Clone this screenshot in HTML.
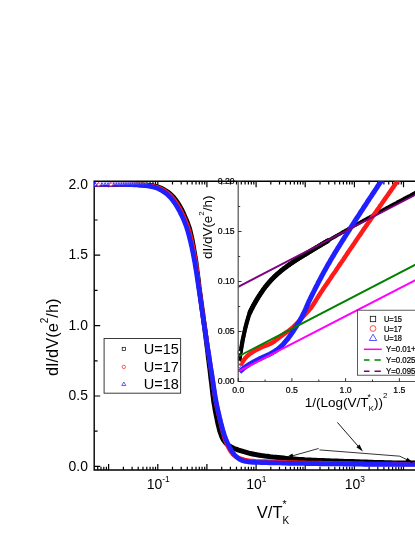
<!DOCTYPE html>
<html><head><meta charset="utf-8"><title>dI/dV</title>
<style>
html,body{margin:0;padding:0;background:#fff;}
body{width:415px;height:537px;overflow:hidden;}
svg{display:block;will-change:transform;font-family:"Liberation Sans",sans-serif;}
text{fill:#000;}
.sm{stroke:#000;stroke-width:0.22px;}
</style></head><body>
<svg width="415" height="537" viewBox="0 0 415 537">
<defs><clipPath id="insetclip"><rect x="237.7" y="181.3" width="200" height="200.2"/></clipPath></defs>
<rect width="415" height="537" fill="#fff"/>
<path d="M94.2,181.3 V470.0 H420 M94.2,181.3 H420" fill="none" stroke="#000" stroke-width="1.4" stroke-linecap="square"/>
<path d="M97.7,470.0 v-3.2 M97.7,181.3 v3.2 M101.0,470.0 v-3.2 M101.0,181.3 v3.2 M103.8,470.0 v-3.2 M103.8,181.3 v3.2 M106.4,470.0 v-3.2 M106.4,181.3 v3.2 M108.6,470.0 v-6 M108.6,181.3 v6 M123.4,470.0 v-3.2 M123.4,181.3 v3.2 M132.1,470.0 v-3.2 M132.1,181.3 v3.2 M138.2,470.0 v-3.2 M138.2,181.3 v3.2 M143.0,470.0 v-3.2 M143.0,181.3 v3.2 M146.8,470.0 v-3.2 M146.8,181.3 v3.2 M150.1,470.0 v-3.2 M150.1,181.3 v3.2 M153.0,470.0 v-3.2 M153.0,181.3 v3.2 M155.5,470.0 v-3.2 M155.5,181.3 v3.2 M157.8,470.0 v-6 M157.8,181.3 v6 M172.5,470.0 v-3.2 M172.5,181.3 v3.2 M181.2,470.0 v-3.2 M181.2,181.3 v3.2 M187.3,470.0 v-3.2 M187.3,181.3 v3.2 M192.1,470.0 v-3.2 M192.1,181.3 v3.2 M196.0,470.0 v-3.2 M196.0,181.3 v3.2 M199.3,470.0 v-3.2 M199.3,181.3 v3.2 M202.1,470.0 v-3.2 M202.1,181.3 v3.2 M204.7,470.0 v-3.2 M204.7,181.3 v3.2 M206.9,470.0 v-6 M206.9,181.3 v6 M221.7,470.0 v-3.2 M221.7,181.3 v3.2 M230.4,470.0 v-3.2 M230.4,181.3 v3.2 M236.5,470.0 v-3.2 M236.5,181.3 v3.2 M241.3,470.0 v-3.2 M241.3,181.3 v3.2 M245.1,470.0 v-3.2 M245.1,181.3 v3.2 M248.4,470.0 v-3.2 M248.4,181.3 v3.2 M251.3,470.0 v-3.2 M251.3,181.3 v3.2 M253.8,470.0 v-3.2 M253.8,181.3 v3.2 M256.1,470.0 v-6 M256.1,181.3 v6 M270.8,470.0 v-3.2 M270.8,181.3 v3.2 M279.5,470.0 v-3.2 M279.5,181.3 v3.2 M285.6,470.0 v-3.2 M285.6,181.3 v3.2 M290.4,470.0 v-3.2 M290.4,181.3 v3.2 M294.3,470.0 v-3.2 M294.3,181.3 v3.2 M297.6,470.0 v-3.2 M297.6,181.3 v3.2 M300.4,470.0 v-3.2 M300.4,181.3 v3.2 M303.0,470.0 v-3.2 M303.0,181.3 v3.2 M305.2,470.0 v-6 M305.2,181.3 v6 M320.0,470.0 v-3.2 M320.0,181.3 v3.2 M328.7,470.0 v-3.2 M328.7,181.3 v3.2 M334.8,470.0 v-3.2 M334.8,181.3 v3.2 M339.6,470.0 v-3.2 M339.6,181.3 v3.2 M343.4,470.0 v-3.2 M343.4,181.3 v3.2 M346.7,470.0 v-3.2 M346.7,181.3 v3.2 M349.6,470.0 v-3.2 M349.6,181.3 v3.2 M352.1,470.0 v-3.2 M352.1,181.3 v3.2 M354.4,470.0 v-6 M354.4,181.3 v6 M369.1,470.0 v-3.2 M369.1,181.3 v3.2 M377.8,470.0 v-3.2 M377.8,181.3 v3.2 M383.9,470.0 v-3.2 M383.9,181.3 v3.2 M388.7,470.0 v-3.2 M388.7,181.3 v3.2 M392.6,470.0 v-3.2 M392.6,181.3 v3.2 M395.9,470.0 v-3.2 M395.9,181.3 v3.2 M398.7,470.0 v-3.2 M398.7,181.3 v3.2 M401.3,470.0 v-3.2 M401.3,181.3 v3.2 M403.5,470.0 v-6 M403.5,181.3 v6 M94.2,466.4 h6 M94.2,431.2 h3.4 M94.2,396.0 h6 M94.2,360.8 h3.4 M94.2,325.6 h6 M94.2,290.4 h3.4 M94.2,255.2 h6 M94.2,220.0 h3.4 M94.2,184.8 h6" fill="none" stroke="#000" stroke-width="1.2"/>
<path d="M94.0,184.4 L96.7,184.4 L99.4,184.4 L102.0,184.4 L104.7,184.4 L107.4,184.4 L110.1,184.4 L112.8,184.4 L115.4,184.4 L118.1,184.4 L120.8,184.4 L123.5,184.4 L126.2,184.4 L128.9,184.5 L131.5,184.5 L134.2,184.5 L136.9,184.6 L139.6,184.7 L142.3,184.7 L144.9,184.9 L147.6,185.2 L150.3,185.5 L153.0,186.0 L155.6,186.5 L158.1,187.1 L160.7,188.1 L163.1,189.3 L165.4,190.6 L167.7,192.1 L169.8,193.7 L171.8,195.5 L173.6,197.4 L175.3,199.5 L176.9,201.7 L178.4,204.0 L179.7,206.3 L181.0,208.6 L182.3,211.0 L183.4,213.4 L184.5,215.9 L185.6,218.4 L186.6,220.8 L187.6,223.3 L188.5,225.9 L189.4,228.4 L190.1,231.0 L190.7,233.6 L191.3,236.2 L191.9,238.8 L192.4,241.4 L192.9,244.1 L193.4,246.7 L193.8,249.4 L194.3,252.0 L194.7,254.7 L195.1,257.3 L195.6,260.0 L196.0,262.6 L196.3,265.3 L196.7,267.9 L197.0,270.6 L197.4,273.2 L197.7,275.9 L198.1,278.6 L198.4,281.2 L198.7,283.9 L199.0,286.5 L199.4,289.2 L199.7,291.9 L200.1,294.5 L200.5,297.2 L200.8,299.8 L201.2,302.5 L201.6,305.1 L201.9,307.8 L202.3,310.5 L202.7,313.1 L203.0,315.8 L203.4,318.4 L203.7,321.1 L204.1,323.7 L204.5,326.4 L204.8,329.0 L205.2,331.7 L205.5,334.4 L205.9,337.0 L206.2,339.7 L206.5,342.3 L206.9,345.0 L207.2,347.7 L207.6,350.3 L207.9,353.0 L208.2,355.6 L208.5,358.3 L208.9,361.0 L209.2,363.6 L209.5,366.3 L209.9,368.9 L210.2,371.6 L210.5,374.3 L210.8,376.9 L211.1,379.6 L211.5,382.3 L211.8,384.9 L212.1,387.6 L212.4,390.2 L212.7,392.9 L213.0,395.6 L213.4,398.2 L213.7,400.9 L214.1,403.5 L214.6,406.2 L215.0,408.8 L215.5,411.5 L216.0,414.1 L216.5,416.7 L217.1,419.3 L217.6,422.0 L218.2,424.7 L218.9,427.3 L219.5,430.0 L220.3,432.5 L221.2,435.0 L222.1,437.4 L223.4,439.8 L225.0,442.0 L226.8,444.0 L228.8,445.6 L231.2,447.0 L233.6,448.2 L236.1,449.2 L238.6,450.1 L241.2,450.9 L243.8,451.7 L246.3,452.4 L248.9,453.1 L251.5,453.7 L254.2,454.3 L256.8,454.8 L259.4,455.2 L262.1,455.6 L264.7,456.0 L267.4,456.3 L270.1,456.7 L272.7,457.0 L275.4,457.2 L278.1,457.5 L280.7,457.8 L283.4,458.1 L286.1,458.4 L288.7,458.7 L291.4,458.9 L294.1,459.1 L296.7,459.3 L299.4,459.5 L302.1,459.6 L304.8,459.8 L307.4,459.9 L310.1,460.0 L312.8,460.2 L315.5,460.3 L318.2,460.4 L320.8,460.5 L323.5,460.6 L326.2,460.7 L328.9,460.8 L331.6,460.9 L334.2,461.0 L336.9,461.1 L339.6,461.2 L342.3,461.3 L345.0,461.4 L347.6,461.4 L350.3,461.5 L353.0,461.6 L355.7,461.7 L358.4,461.8 L361.0,461.9 L363.7,462.0 L366.4,462.1 L369.1,462.2 L371.8,462.3 L374.4,462.4 L377.1,462.5 L379.8,462.5 L382.5,462.6 L385.2,462.7 L387.8,462.7 L390.5,462.8 L393.2,462.9 L395.9,462.9 L398.6,463.0 L401.2,463.0 L403.9,463.0 L406.6,463.1 L409.3,463.1 L412.0,463.1 L414.6,463.1 L417.3,463.1 L420.0,463.1" fill="none" stroke="#000" stroke-width="5" stroke-linejoin="round"/>
<path d="M94.0,184.4 L96.7,184.4 L99.4,184.4 L102.1,184.4 L104.8,184.4 L107.5,184.4 L110.2,184.4 L112.9,184.5 L115.6,184.5 L118.3,184.5 L121.0,184.5 L123.7,184.5 L126.4,184.6 L129.1,184.6 L131.8,184.6 L134.4,184.7 L137.1,184.8 L139.8,184.9 L142.5,185.0 L145.2,185.2 L147.9,185.5 L150.6,185.9 L153.3,186.3 L155.9,186.9 L158.4,187.7 L160.9,188.8 L163.3,190.1 L165.5,191.6 L167.8,193.2 L169.8,194.9 L171.7,196.8 L173.4,198.9 L175.0,201.1 L176.6,203.3 L178.0,205.6 L179.3,207.9 L180.6,210.3 L181.8,212.7 L183.0,215.2 L184.1,217.6 L185.1,220.1 L186.2,222.6 L187.2,225.1 L188.1,227.7 L188.9,230.2 L189.6,232.8 L190.3,235.4 L190.9,238.0 L191.5,240.6 L192.1,243.3 L192.7,245.9 L193.2,248.6 L193.7,251.2 L194.2,253.9 L194.7,256.6 L195.2,259.2 L195.6,261.9 L196.0,264.5 L196.4,267.2 L196.8,269.9 L197.1,272.5 L197.5,275.2 L197.8,277.9 L198.1,280.6 L198.5,283.2 L198.8,285.9 L199.2,288.6 L199.6,291.2 L199.9,293.9 L200.3,296.6 L200.7,299.3 L201.1,301.9 L201.4,304.6 L201.8,307.3 L202.2,309.9 L202.6,312.6 L203.0,315.3 L203.3,317.9 L203.7,320.6 L204.1,323.3 L204.5,325.9 L204.9,328.6 L205.3,331.3 L205.6,334.0 L206.0,336.6 L206.4,339.3 L206.8,342.0 L207.2,344.6 L207.6,347.3 L208.0,349.9 L208.4,352.6 L208.9,355.3 L209.3,357.9 L209.7,360.6 L210.1,363.3 L210.5,365.9 L210.9,368.6 L211.3,371.3 L211.7,373.9 L212.1,376.6 L212.5,379.3 L212.9,381.9 L213.2,384.6 L213.6,387.3 L214.0,390.0 L214.3,392.6 L214.7,395.3 L215.2,397.9 L215.6,400.6 L216.2,403.2 L216.7,405.9 L217.3,408.5 L217.9,411.1 L218.5,413.8 L219.2,416.4 L219.8,419.0 L220.4,421.6 L221.0,424.3 L221.6,426.9 L222.3,429.5 L223.0,432.1 L223.7,434.7 L224.4,437.3 L225.3,439.9 L226.2,442.4 L227.2,444.9 L228.4,447.3 L229.7,449.8 L231.2,452.1 L232.9,454.2 L234.8,455.8 L237.1,457.2 L239.7,458.3 L242.3,459.3 L244.9,459.9 L247.5,460.4 L250.2,460.9 L252.9,461.1 L255.6,461.3 L258.3,461.4 L261.0,461.5 L263.7,461.6 L266.4,461.6 L269.1,461.7 L271.8,461.8 L274.5,461.9 L277.2,462.0 L279.8,462.1 L282.5,462.2 L285.2,462.3 L287.9,462.4 L290.6,462.5 L293.3,462.6 L296.0,462.6 L298.7,462.7 L301.4,462.7 L304.1,462.8 L306.8,462.9 L309.5,462.9 L312.2,463.0 L314.9,463.0 L317.6,463.1 L320.3,463.1 L323.0,463.2 L325.7,463.2 L328.3,463.3 L331.0,463.3 L333.7,463.4 L336.4,463.4 L339.1,463.5 L341.8,463.5 L344.5,463.6 L347.2,463.6 L349.9,463.6 L352.6,463.7 L355.3,463.7 L358.0,463.8 L360.7,463.8 L363.4,463.8 L366.1,463.9 L368.8,463.9 L371.5,463.9 L374.2,464.0 L376.9,464.0 L379.6,464.0 L382.3,464.0 L385.0,464.1 L387.7,464.1 L390.3,464.1 L393.0,464.1 L395.7,464.1 L398.4,464.2 L401.1,464.2 L403.8,464.2 L406.5,464.2 L409.2,464.2 L411.9,464.2 L414.6,464.2 L417.3,464.2 L420.0,464.2" fill="none" stroke="#ff1a1a" stroke-width="4.5" stroke-linejoin="round"/>
<path d="M94.0,184.4 L96.7,184.4 L99.4,184.4 L102.1,184.4 L104.8,184.4 L107.4,184.4 L110.1,184.4 L112.8,184.5 L115.5,184.5 L118.2,184.5 L120.9,184.5 L123.6,184.5 L126.3,184.6 L129.0,184.7 L131.6,184.7 L134.3,184.8 L137.0,185.0 L139.7,185.1 L142.4,185.3 L145.1,185.6 L147.8,185.9 L150.4,186.4 L153.0,187.0 L155.6,187.6 L158.1,188.6 L160.5,189.8 L162.8,191.2 L165.1,192.7 L167.2,194.4 L169.1,196.2 L171.0,198.2 L172.7,200.3 L174.3,202.5 L175.8,204.7 L177.2,207.0 L178.5,209.3 L179.8,211.7 L181.0,214.1 L182.2,216.6 L183.3,219.0 L184.3,221.5 L185.3,224.0 L186.3,226.5 L187.1,229.1 L187.9,231.6 L188.6,234.2 L189.3,236.8 L189.9,239.4 L190.6,242.0 L191.2,244.6 L191.8,247.3 L192.3,249.9 L192.9,252.6 L193.4,255.2 L193.9,257.8 L194.4,260.5 L194.9,263.1 L195.3,265.8 L195.7,268.4 L196.2,271.1 L196.6,273.7 L197.0,276.4 L197.4,279.0 L197.8,281.7 L198.2,284.4 L198.6,287.0 L199.0,289.7 L199.4,292.3 L199.8,295.0 L200.2,297.7 L200.6,300.3 L201.0,303.0 L201.3,305.6 L201.7,308.3 L202.1,311.0 L202.5,313.6 L202.9,316.3 L203.3,318.9 L203.7,321.6 L204.1,324.3 L204.5,326.9 L204.9,329.6 L205.3,332.2 L205.7,334.9 L206.1,337.5 L206.5,340.2 L206.9,342.9 L207.3,345.5 L207.7,348.2 L208.1,350.8 L208.6,353.5 L209.0,356.1 L209.4,358.8 L209.8,361.5 L210.2,364.1 L210.6,366.8 L211.0,369.4 L211.5,372.1 L211.9,374.7 L212.3,377.4 L212.7,380.1 L213.1,382.7 L213.5,385.4 L213.9,388.0 L214.3,390.7 L214.7,393.3 L215.1,396.0 L215.6,398.6 L216.1,401.3 L216.6,403.9 L217.1,406.6 L217.7,409.2 L218.3,411.8 L218.9,414.4 L219.5,417.1 L220.2,419.7 L220.8,422.3 L221.5,424.9 L222.2,427.5 L222.9,430.1 L223.7,432.7 L224.5,435.2 L225.4,437.7 L226.3,440.2 L227.4,442.7 L228.6,445.2 L229.8,447.5 L231.1,449.9 L232.6,452.3 L234.2,454.5 L235.9,456.4 L237.9,458.1 L240.3,459.7 L242.7,460.8 L245.3,461.4 L247.9,461.8 L250.6,462.1 L253.3,462.3 L256.0,462.4 L258.7,462.5 L261.4,462.6 L264.1,462.7 L266.8,462.7 L269.5,462.8 L272.2,462.8 L274.8,462.9 L277.5,463.0 L280.2,463.0 L282.9,463.1 L285.6,463.2 L288.3,463.3 L291.0,463.3 L293.7,463.4 L296.3,463.4 L299.0,463.5 L301.7,463.5 L304.4,463.5 L307.1,463.6 L309.8,463.6 L312.5,463.7 L315.2,463.7 L317.8,463.7 L320.5,463.8 L323.2,463.8 L325.9,463.8 L328.6,463.9 L331.3,463.9 L334.0,463.9 L336.7,464.0 L339.4,464.0 L342.0,464.0 L344.7,464.1 L347.4,464.1 L350.1,464.1 L352.8,464.2 L355.5,464.2 L358.2,464.2 L360.9,464.2 L363.5,464.3 L366.2,464.3 L368.9,464.3 L371.6,464.3 L374.3,464.3 L377.0,464.4 L379.7,464.4 L382.4,464.4 L385.1,464.4 L387.7,464.4 L390.4,464.4 L393.1,464.5 L395.8,464.5 L398.5,464.5 L401.2,464.5 L403.9,464.5 L406.6,464.5 L409.2,464.5 L411.9,464.5 L414.6,464.5 L417.3,464.5 L420.0,464.5" fill="none" stroke="#1f1fff" stroke-width="4.7" stroke-linejoin="round"/>
<path d="M95.4,183.4 l0.93,1.77 h-1.86 z" fill="#fff" opacity="0.98"/>
<path d="M95.4,181.9 h3.35 l-1.67,3.0 z" fill="#fff" opacity="0.98"/>
<circle cx="98.7" cy="184.5" r="1.60" fill="#fff" stroke="#ff1a1a" stroke-width="0.9"/>
<path d="M98.7,181.9 h3.22 l-1.61,3.0 z" fill="#fff" opacity="0.93"/>
<path d="M102.0,183.5 l0.85,1.61 h-1.69 z" fill="#fff" opacity="0.88"/>
<circle cx="102.4" cy="185.6" r="0.55" fill="#ff3030" opacity="0.88"/>
<path d="M102.0,181.9 h3.10 l-1.55,3.0 z" fill="#fff" opacity="0.88"/>
<path d="M105.1,183.5 l0.81,1.53 h-1.61 z" fill="#fff" opacity="0.83"/>
<path d="M105.1,181.9 h2.98 l-1.49,3.0 z" fill="#fff" opacity="0.83"/>
<path d="M108.0,183.5 l0.77,1.46 h-1.53 z" fill="#fff" opacity="0.79"/>
<path d="M108.0,181.9 h2.87 l-1.43,3.0 z" fill="#fff" opacity="0.79"/>
<circle cx="110.9" cy="184.5" r="1.60" fill="#fff" stroke="#ff1a1a" stroke-width="0.9"/>
<path d="M110.9,181.9 h2.76 l-1.38,3.0 z" fill="#fff" opacity="0.75"/>
<path d="M113.7,183.6 l0.69,1.32 h-1.39 z" fill="#fff" opacity="0.70"/>
<path d="M113.7,181.9 h2.65 l-1.33,3.0 z" fill="#fff" opacity="0.70"/>
<path d="M116.3,183.6 l0.66,1.25 h-1.32 z" fill="#fff" opacity="0.67"/>
<path d="M116.3,181.9 h2.55 l-1.28,3.0 z" fill="#fff" opacity="0.67"/>
<path d="M118.9,183.7 l0.63,1.19 h-1.25 z" fill="#fff" opacity="0.63"/>
<circle cx="119.3" cy="185.6" r="0.55" fill="#ff3030" opacity="0.63"/>
<path d="M118.9,181.9 h2.45 l-1.23,3.0 z" fill="#fff" opacity="0.63"/>
<path d="M121.3,183.7 l0.59,1.13 h-1.19 z" fill="#fff" opacity="0.59"/>
<path d="M121.3,181.9 h2.36 l-1.18,3.0 z" fill="#fff" opacity="0.59"/>
<path d="M123.7,183.7 l0.56,1.07 h-1.13 z" fill="#fff" opacity="0.55"/>
<path d="M123.7,181.9 h2.27 l-1.14,3.0 z" fill="#fff" opacity="0.55"/>
<path d="M126.0,183.8 l0.53,1.02 h-1.07 z" fill="#fff" opacity="0.52"/>
<circle cx="126.4" cy="185.6" r="0.55" fill="#ff3030" opacity="0.52"/>
<path d="M126.0,181.9 h2.19 l-1.09,3.0 z" fill="#fff" opacity="0.52"/>
<path d="M128.1,183.8 l0.51,0.96 h-1.01 z" fill="#fff" opacity="0.49"/>
<path d="M128.1,181.9 h2.10 l-1.05,3.0 z" fill="#fff" opacity="0.49"/>
<path d="M130.2,183.8 l0.48,0.91 h-0.96 z" fill="#fff" opacity="0.46"/>
<path d="M130.2,181.9 h2.02 l-1.01,3.0 z" fill="#fff" opacity="0.46"/>
<path d="M132.3,183.8 l0.45,0.86 h-0.90 z" fill="#fff" opacity="0.43"/>
<circle cx="132.7" cy="185.6" r="0.55" fill="#ff3030" opacity="0.43"/>
<path d="M132.3,181.9 h1.95 l-0.97,3.0 z" fill="#fff" opacity="0.43"/>
<path d="M134.2,183.9 l0.43,0.81 h-0.85 z" fill="#fff" opacity="0.40"/>
<path d="M134.2,181.9 h1.87 l-0.94,3.0 z" fill="#fff" opacity="0.40"/>
<path d="M136.1,183.9 l0.40,0.77 h-0.81 z" fill="#fff" opacity="0.37"/>
<path d="M136.1,181.9 h1.80 l-0.90,3.0 z" fill="#fff" opacity="0.37"/>
<path d="M137.9,183.9 l0.38,0.72 h-0.76 z" fill="#fff" opacity="0.34"/>
<circle cx="138.3" cy="185.6" r="0.55" fill="#ff3030" opacity="0.34"/>
<path d="M137.9,181.9 h1.73 l-0.87,3.0 z" fill="#fff" opacity="0.34"/>
<path d="M139.6,183.9 l0.36,0.68 h-0.71 z" fill="#fff" opacity="0.32"/>
<path d="M139.6,181.9 h1.67 l-0.83,3.0 z" fill="#fff" opacity="0.32"/>
<path d="M141.3,184.0 l0.34,0.64 h-0.67 z" fill="#fff" opacity="0.29"/>
<path d="M141.3,181.9 h1.60 l-0.80,3.0 z" fill="#fff" opacity="0.29"/>
<path d="M142.9,184.0 l0.31,0.60 h-0.63 z" fill="#fff" opacity="0.27"/>
<circle cx="143.3" cy="185.6" r="0.55" fill="#ff3030" opacity="0.27"/>
<path d="M142.9,181.9 h1.54 l-0.77,3.0 z" fill="#fff" opacity="0.27"/>
<path d="M144.4,184.0 l0.30,0.57 h-0.60 z" fill="#fff" opacity="0.25"/>
<path d="M144.4,181.9 h1.50 l-0.75,3.0 z" fill="#fff" opacity="0.25"/>
<path d="M145.9,184.0 l0.30,0.57 h-0.60 z" fill="#fff" opacity="0.25"/>
<path d="M145.9,181.9 h1.50 l-0.75,3.0 z" fill="#fff" opacity="0.25"/>
<g clip-path="url(#insetclip)">
<path d="M239.6,359.5 L239.7,358.6 L239.8,357.8 L239.9,356.9 L240.0,356.0 L240.2,355.2 L240.3,354.3 L240.4,353.4 L240.6,352.6 L240.7,351.7 L240.8,350.8 L241.0,350.0 L241.1,349.1 L241.3,348.3 L241.4,347.4 L241.6,346.5 L241.7,345.7 L241.8,344.8 L242.0,343.9 L242.1,343.1 L242.3,342.2 L242.5,341.4 L242.6,340.5 L242.8,339.6 L243.0,338.8 L243.1,337.9 L243.3,337.1 L243.5,336.2 L243.7,335.4 L243.9,334.5 L244.0,333.7 L244.2,332.8 L244.4,332.0 L244.6,331.1 L244.8,330.3 L245.0,329.4 L245.2,328.5 L245.4,327.7 L245.6,326.8 L245.9,326.0 L246.1,325.2 L246.3,324.3 L246.5,323.5 L246.7,322.6 L247.0,321.8 L247.2,320.9 L247.4,320.1 L247.7,319.3 L247.9,318.4 L248.2,317.6 L248.4,316.7 L248.7,315.9 L249.0,315.1 L249.3,314.2 L249.6,313.4 L249.9,312.6 L250.2,311.8 L250.5,311.0 L250.9,310.2 L251.3,309.4 L251.6,308.6 L252.0,307.9 L252.5,307.1 L252.9,306.3 L253.3,305.5 L253.7,304.8 L254.2,304.0 L254.6,303.3 L255.1,302.5 L255.5,301.7 L256.0,301.0 L256.4,300.2 L256.9,299.5 L257.3,298.8 L257.8,298.0 L258.2,297.3 L258.7,296.5 L259.2,295.8 L259.6,295.0 L260.1,294.3 L260.6,293.6 L261.1,292.8 L261.6,292.1 L262.1,291.4 L262.6,290.7 L263.1,290.0 L263.6,289.3 L264.1,288.5 L264.6,287.9 L265.1,287.2 L265.7,286.5 L266.2,285.8 L266.8,285.1 L267.3,284.4 L267.9,283.8 L268.5,283.1 L269.0,282.4 L269.6,281.8 L270.2,281.1 L270.8,280.5 L271.4,279.8 L272.0,279.2 L272.6,278.6 L273.2,278.0 L273.8,277.3 L274.5,276.7 L275.1,276.1 L275.7,275.5 L276.4,274.9 L277.0,274.3 L277.7,273.8 L278.3,273.2 L279.0,272.6 L279.6,272.0 L280.3,271.5 L281.0,270.9 L281.7,270.4 L282.3,269.8 L283.0,269.3 L283.7,268.7 L284.4,268.2 L285.1,267.7 L285.8,267.1 L286.5,266.6 L287.2,266.1 L287.9,265.6 L288.6,265.1 L289.3,264.6 L290.1,264.1 L290.8,263.6 L291.5,263.1 L292.2,262.6 L293.0,262.1 L293.7,261.6 L294.4,261.1 L295.1,260.7 L295.9,260.2 L296.6,259.7 L297.4,259.2 L298.1,258.8 L298.8,258.3 L299.6,257.8 L300.3,257.4 L301.1,256.9 L301.8,256.5 L302.5,256.0 L303.3,255.5 L304.0,255.1 L304.8,254.6 L305.5,254.2 L306.3,253.7 L307.0,253.3 L307.8,252.8 L308.5,252.4 L309.3,251.9 L310.0,251.5 L310.8,251.0 L311.5,250.6 L312.3,250.1 L313.0,249.6 L313.8,249.2 L314.5,248.7 L315.3,248.3 L316.0,247.8 L316.8,247.4 L317.5,246.9 L318.2,246.5 L319.0,246.0 L319.7,245.6 L320.5,245.1 L321.2,244.7 L322.0,244.2 L322.8,243.8 L323.5,243.3 L324.3,242.9 L325.0,242.5 L325.8,242.0 L326.5,241.6 L327.3,241.1 L328.0,240.7 L328.8,240.2 L329.5,239.8 L330.3,239.4 L331.0,238.9 L331.8,238.5 L332.5,238.0 L333.3,237.6 L334.1,237.2 L334.8,236.7 L335.6,236.3 L336.3,235.8 L337.1,235.4 L337.8,235.0 L338.6,234.5 L339.4,234.1 L340.1,233.7 L340.9,233.2 L341.6,232.8 L342.4,232.4 L343.2,231.9 L343.9,231.5 L344.7,231.1 L345.4,230.6 L346.2,230.2 L347.0,229.8 L347.7,229.4 L348.5,228.9 L349.3,228.5 L350.0,228.1 L350.8,227.6 L351.5,227.2 L352.3,226.8 L353.1,226.4 L353.8,225.9 L354.6,225.5 L355.4,225.1 L356.1,224.7 L356.9,224.2 L357.7,223.8 L358.4,223.4 L359.2,223.0 L360.0,222.6 L360.7,222.1 L361.5,221.7 L362.2,221.3 L363.0,220.9 L363.8,220.4 L364.5,220.0 L365.3,219.6 L366.1,219.2 L366.8,218.8 L367.6,218.3 L368.4,217.9 L369.2,217.5 L369.9,217.1 L370.7,216.7 L371.5,216.3 L372.2,215.8 L373.0,215.4 L373.8,215.0 L374.5,214.6 L375.3,214.2 L376.1,213.7 L376.8,213.3 L377.6,212.9 L378.4,212.5 L379.1,212.1 L379.9,211.7 L380.7,211.2 L381.4,210.8 L382.2,210.4 L383.0,210.0 L383.7,209.6 L384.5,209.2 L385.3,208.8 L386.1,208.3 L386.8,207.9 L387.6,207.5 L388.4,207.1 L389.1,206.7 L389.9,206.3 L390.7,205.9 L391.4,205.4 L392.2,205.0 L393.0,204.6 L393.8,204.2 L394.5,203.8 L395.3,203.4 L396.1,203.0 L396.8,202.6 L397.6,202.1 L398.4,201.7 L399.2,201.3 L399.9,200.9 L400.7,200.5 L401.5,200.1 L402.2,199.7 L403.0,199.3 L403.8,198.9 L404.6,198.4 L405.3,198.0 L406.1,197.6 L406.9,197.2 L407.6,196.8 L408.4,196.4 L409.2,196.0 L410.0,195.6 L410.7,195.2 L411.5,194.7 L412.3,194.3 L413.0,193.9 L413.8,193.5 L414.6,193.1 L415.4,192.7 L416.1,192.3 L416.9,191.9 L417.7,191.5 L418.5,191.1 L419.2,190.6 L420.0,190.2" fill="none" stroke="#000" stroke-width="3.6" stroke-linejoin="round"/>
<path d="M239.6,359.5 L239.7,359.0 L239.7,358.5 L239.8,357.9 L239.9,357.4 L239.9,356.9 L240.0,356.4 L240.1,355.9 L240.1,355.4 L240.2,354.8 L240.3,354.3 L240.4,353.8 L240.4,353.3 L240.5,352.8 L240.6,352.3 L240.7,351.7 L240.8,351.2 L240.9,350.7 L240.9,350.2 L241.0,349.7 L241.1,349.2 L241.2,348.6 L241.3,348.1 L241.4,347.6 L241.5,347.1 L241.5,346.6 L241.6,346.1 L241.7,345.6 L241.8,345.0 L241.9,344.5 L242.0,344.0 L242.1,343.5 L242.2,343.0 L242.3,342.5 L242.4,341.9 L242.4,341.4 L242.5,340.9 L242.6,340.4 L242.7,339.9 L242.8,339.4 L242.9,338.9 L243.0,338.4 L243.1,337.8 L243.3,337.3 L243.4,336.8 L243.5,336.3 L243.6,335.8 L243.7,335.3 L243.8,334.8 L243.9,334.3 L244.0,333.8 L244.1,333.2 L244.3,332.7 L244.4,332.2 L244.5,331.7 L244.6,331.2 L244.7,330.7 L244.8,330.2 L245.0,329.7 L245.1,329.2 L245.2,328.7 L245.3,328.2 L245.4,327.7 L245.6,327.1 L245.7,326.6 L245.8,326.1 L245.9,325.6 L246.1,325.1 L246.2,324.6 L246.3,324.1 L246.5,323.6 L246.6,323.1 L246.7,322.6 L246.9,322.1 L247.0,321.6 L247.2,321.1 L247.3,320.6 L247.5,320.1 L247.6,319.6 L247.7,319.1 L247.9,318.6 L248.0,318.1 L248.2,317.6 L248.3,317.1 L248.5,316.6 L248.7,316.1 L248.8,315.6 L249.0,315.1 L249.2,314.6 L249.3,314.1 L249.5,313.6 L249.7,313.1 L249.9,312.6 L250.1,312.1 L250.3,311.7 L250.5,311.2 L250.7,310.7 L250.9,310.2 L251.1,309.8 L251.3,309.3 L251.6,308.8 L251.8,308.4 L252.0,307.9 L252.3,307.4 L252.5,307.0 L252.8,306.5 L253.0,306.0 L253.3,305.6 L253.5,305.1 L253.8,304.7 L254.1,304.2 L254.3,303.8 L254.6,303.3 L254.9,302.9 L255.1,302.4 L255.4,301.9 L255.7,301.5 L255.9,301.0 L256.2,300.6 L256.5,300.2 L256.8,299.7 L257.0,299.3 L257.3,298.8 L257.6,298.4 L257.8,297.9 L258.1,297.5 L258.4,297.0 L258.7,296.6 L258.9,296.1 L259.2,295.7 L259.5,295.3 L259.8,294.8 L260.1,294.4 L260.3,293.9 L260.6,293.5 L260.9,293.1 L261.2,292.6 L261.5,292.2 L261.8,291.8 L262.1,291.3 L262.4,290.9 L262.7,290.5 L263.0,290.0 L263.3,289.6 L263.6,289.2 L263.9,288.8 L264.2,288.4 L264.5,287.9 L264.9,287.5 L265.2,287.1 L265.5,286.7 L265.8,286.3 L266.1,285.9 L266.5,285.5 L266.8,285.1 L267.1,284.7 L267.5,284.3 L267.8,283.9 L268.1,283.5 L268.5,283.1 L268.8,282.7 L269.2,282.3 L269.5,281.9 L269.9,281.5 L270.2,281.1 L270.6,280.7 L270.9,280.3 L271.3,280.0 L271.6,279.6 L272.0,279.2 L272.4,278.8 L272.7,278.4 L273.1,278.1 L273.5,277.7 L273.8,277.3 L274.2,277.0 L274.6,276.6 L275.0,276.2 L275.3,275.9 L275.7,275.5 L276.1,275.2 L276.5,274.8 L276.9,274.5 L277.3,274.1 L277.7,273.8 L278.0,273.4 L278.4,273.1 L278.8,272.7 L279.2,272.4 L279.6,272.1 L280.0,271.7 L280.4,271.4 L280.8,271.0 L281.2,270.7 L281.6,270.4 L282.0,270.1 L282.4,269.7 L282.9,269.4 L283.3,269.1 L283.7,268.8 L284.1,268.4 L284.5,268.1 L284.9,267.8 L285.3,267.5 L285.8,267.2 L286.2,266.9 L286.6,266.5 L287.0,266.2 L287.4,265.9 L287.9,265.6 L288.3,265.3 L288.7,265.0 L289.1,264.7 L289.6,264.4 L290.0,264.1 L290.4,263.8 L290.9,263.5 L291.3,263.2 L291.7,262.9 L292.2,262.6 L292.6,262.3 L293.0,262.1 L293.5,261.8 L293.9,261.5 L294.3,261.2 L294.8,260.9 L295.2,260.6 L295.6,260.3 L296.1,260.0 L296.5,259.8 L297.0,259.5 L297.4,259.2 L297.8,258.9 L298.3,258.6 L298.7,258.4 L299.2,258.1 L299.6,257.8 L300.1,257.5 L300.5,257.3 L300.9,257.0 L301.4,256.7 L301.8,256.4 L302.3,256.2 L302.7,255.9 L303.2,255.6 L303.6,255.3 L304.1,255.1 L304.5,254.8 L305.0,254.5 L305.4,254.3 L305.8,254.0 L306.3,253.7 L306.7,253.4 L307.2,253.2 L307.6,252.9 L308.1,252.6 L308.5,252.4 L309.0,252.1 L309.4,251.8 L309.9,251.5 L310.3,251.3 L310.8,251.0 L311.2,250.7 L311.7,250.5 L312.1,250.2 L312.6,249.9 L313.0,249.7 L313.5,249.4 L313.9,249.1 L314.3,248.8 L314.8,248.6 L315.2,248.3 L315.7,248.0 L316.1,247.8 L316.6,247.5 L317.0,247.2 L317.5,247.0 L317.9,246.7 L318.4,246.4 L318.8,246.2 L319.3,245.9 L319.7,245.6 L320.2,245.4 L320.6,245.1 L321.1,244.8 L321.5,244.5 L322.0,244.3 L322.4,244.0 L322.9,243.7 L323.3,243.5 L323.8,243.2 L324.2,242.9 L324.7,242.7 L325.1,242.4 L325.6,242.1 L326.0,241.9 L326.5,241.6 L326.9,241.3 L327.4,241.1 L327.8,240.8" fill="none" stroke="#000" stroke-width="4.2" stroke-linejoin="round" stroke-linecap="round"/>
<path d="M250.0,312.3 L250.2,312.0 L250.3,311.6 L250.5,311.3 L250.6,311.0 L250.8,310.7 L251.0,310.3 L251.1,310.0 L251.3,309.7 L251.4,309.4 L251.6,309.0 L251.8,308.7 L251.9,308.4 L252.1,308.1 L252.3,307.8 L252.4,307.4 L252.6,307.1 L252.8,306.8 L252.9,306.5 L253.1,306.2 L253.3,305.8 L253.4,305.5 L253.6,305.2 L253.8,304.9 L254.0,304.6 L254.1,304.3 L254.3,303.9 L254.5,303.6 L254.7,303.3 L254.8,303.0 L255.0,302.7 L255.2,302.4 L255.4,302.1 L255.6,301.7 L255.7,301.4 L255.9,301.1 L256.1,300.8 L256.3,300.5 L256.5,300.2 L256.6,299.9 L256.8,299.6 L257.0,299.3 L257.2,299.0 L257.4,298.7 L257.6,298.3 L257.8,298.0 L257.9,297.7 L258.1,297.4 L258.3,297.1 L258.5,296.8 L258.7,296.5 L258.9,296.2 L259.1,295.9 L259.3,295.6 L259.5,295.3 L259.7,295.0 L259.9,294.7 L260.1,294.4 L260.3,294.1 L260.5,293.8 L260.7,293.5 L260.9,293.2 L261.1,292.9 L261.3,292.6 L261.5,292.3 L261.7,292.0 L261.9,291.7 L262.1,291.4 L262.3,291.1 L262.5,290.8 L262.7,290.5 L262.9,290.2 L263.1,289.9 L263.3,289.6 L263.5,289.3 L263.8,289.0 L264.0,288.7 L264.2,288.4 L264.4,288.2 L264.6,287.9 L264.8,287.6 L265.0,287.3 L265.3,287.0 L265.5,286.7 L265.7,286.4 L265.9,286.2 L266.2,285.9 L266.4,285.6 L266.6,285.3 L266.8,285.0 L267.1,284.8 L267.3,284.5 L267.5,284.2 L267.8,283.9 L268.0,283.6 L268.2,283.4 L268.5,283.1 L268.7,282.8 L268.9,282.5 L269.2,282.3 L269.4,282.0 L269.7,281.7 L269.9,281.5 L270.1,281.2 L270.4,280.9 L270.6,280.7 L270.9,280.4 L271.1,280.1 L271.4,279.9 L271.6,279.6 L271.9,279.4 L272.1,279.1 L272.4,278.8 L272.6,278.6 L272.9,278.3 L273.1,278.1 L273.4,277.8 L273.6,277.6 L273.9,277.3 L274.1,277.0 L274.4,276.8 L274.7,276.5 L274.9,276.3 L275.2,276.0 L275.4,275.8 L275.7,275.6 L276.0,275.3 L276.2,275.1 L276.5,274.8 L276.8,274.6 L277.0,274.3 L277.3,274.1 L277.6,273.8 L277.8,273.6 L278.1,273.4 L278.4,273.1 L278.6,272.9 L278.9,272.7 L279.2,272.4 L279.5,272.2 L279.7,272.0 L280.0,271.7 L280.3,271.5 L280.6,271.3 L280.8,271.0 L281.1,270.8 L281.4,270.6 L281.7,270.3 L282.0,270.1 L282.2,269.9 L282.5,269.7 L282.8,269.4 L283.1,269.2 L283.4,269.0 L283.7,268.8 L283.9,268.5 L284.2,268.3 L284.5,268.1 L284.8,267.9 L285.1,267.7 L285.4,267.5 L285.7,267.2 L286.0,267.0 L286.2,266.8 L286.5,266.6 L286.8,266.4 L287.1,266.2 L287.4,266.0 L287.7,265.7 L288.0,265.5 L288.3,265.3 L288.6,265.1 L288.9,264.9 L289.2,264.7 L289.5,264.5 L289.8,264.3 L290.1,264.1 L290.4,263.9 L290.6,263.7 L290.9,263.5 L291.2,263.3 L291.5,263.1 L291.8,262.9 L292.1,262.7 L292.4,262.4 L292.7,262.2 L293.0,262.0 L293.3,261.8 L293.6,261.6 L293.9,261.4 L294.2,261.2 L294.5,261.1 L294.8,260.9 L295.1,260.7 L295.4,260.5 L295.7,260.3 L296.1,260.1 L296.4,259.9 L296.7,259.7 L297.0,259.5 L297.3,259.3 L297.6,259.1 L297.9,258.9 L298.2,258.7 L298.5,258.5 L298.8,258.3 L299.1,258.1 L299.4,257.9 L299.7,257.8 L300.0,257.6 L300.3,257.4 L300.6,257.2 L300.9,257.0 L301.2,256.8 L301.5,256.6 L301.8,256.4 L302.2,256.2 L302.5,256.0 L302.8,255.9 L303.1,255.7 L303.4,255.5 L303.7,255.3 L304.0,255.1 L304.3,254.9 L304.6,254.7 L304.9,254.5 L305.2,254.4 L305.5,254.2 L305.9,254.0 L306.2,253.8 L306.5,253.6 L306.8,253.4 L307.1,253.2 L307.4,253.0 L307.7,252.9 L308.0,252.7 L308.3,252.5 L308.6,252.3 L308.9,252.1 L309.2,251.9 L309.6,251.7 L309.9,251.6 L310.2,251.4 L310.5,251.2 L310.8,251.0 L311.1,250.8 L311.4,250.6 L311.7,250.4 L312.0,250.2 L312.3,250.1 L312.6,249.9 L312.9,249.7 L313.3,249.5 L313.6,249.3 L313.9,249.1 L314.2,248.9 L314.5,248.8 L314.8,248.6 L315.1,248.4 L315.4,248.2 L315.7,248.0 L316.0,247.8 L316.3,247.6 L316.7,247.5 L317.0,247.3 L317.3,247.1 L317.6,246.9 L317.9,246.7 L318.2,246.5 L318.5,246.3 L318.8,246.2 L319.1,246.0 L319.4,245.8 L319.7,245.6 L320.1,245.4 L320.4,245.2 L320.7,245.0 L321.0,244.9 L321.3,244.7 L321.6,244.5 L321.9,244.3 L322.2,244.1 L322.5,243.9 L322.8,243.8 L323.2,243.6 L323.5,243.4 L323.8,243.2 L324.1,243.0 L324.4,242.8 L324.7,242.6 L325.0,242.5 L325.3,242.3 L325.6,242.1 L325.9,241.9 L326.2,241.7 L326.6,241.5 L326.9,241.4 L327.2,241.2 L327.5,241.0 L327.8,240.8" fill="none" stroke="#000" stroke-width="4.8" stroke-linejoin="round" stroke-linecap="round"/>
<path d="M240.6,365.3 L241.2,364.2 L241.8,363.1 L242.5,362.0 L243.2,361.0 L243.9,359.9 L244.7,358.9 L245.5,357.9 L246.4,357.0 L247.2,356.1 L248.2,355.3 L249.1,354.5 L250.1,353.7 L251.1,353.0 L252.2,352.3 L253.3,351.6 L254.4,350.9 L255.5,350.3 L256.6,349.7 L257.7,349.1 L258.8,348.6 L260.0,348.1 L261.1,347.5 L262.3,347.0 L263.5,346.5 L264.6,346.0 L265.8,345.6 L267.0,345.1 L268.2,344.6 L269.3,344.2 L270.5,343.7 L271.6,343.1 L272.7,342.5 L273.7,341.8 L274.7,341.1 L275.7,340.3 L276.7,339.5 L277.7,338.7 L278.7,337.9 L279.7,337.1 L280.7,336.4 L281.8,335.6 L282.8,334.9 L283.8,334.2 L284.9,333.4 L285.9,332.7 L286.9,332.0 L288.0,331.2 L289.0,330.5 L290.0,329.7 L291.0,329.0 L291.9,328.2 L292.9,327.3 L293.8,326.5 L294.7,325.6 L295.6,324.7 L296.5,323.8 L297.4,322.9 L298.2,322.0 L299.1,321.1 L299.9,320.1 L300.8,319.2 L301.6,318.2 L302.5,317.3 L303.3,316.4 L304.2,315.5 L305.1,314.5 L305.9,313.6 L306.8,312.7 L307.6,311.7 L308.5,310.8 L309.3,309.8 L310.1,308.8 L310.9,307.9 L311.6,306.9 L312.4,305.9 L313.1,304.8 L313.8,303.8 L314.4,302.7 L315.1,301.6 L315.8,300.6 L316.4,299.5 L317.1,298.4 L317.8,297.3 L318.4,296.3 L319.1,295.2 L319.8,294.1 L320.5,293.1 L321.2,292.0 L321.9,291.0 L322.6,289.9 L323.3,288.9 L324.0,287.8 L324.7,286.8 L325.4,285.8 L326.1,284.7 L326.8,283.7 L327.6,282.6 L328.3,281.6 L329.0,280.5 L329.7,279.5 L330.4,278.5 L331.1,277.4 L331.8,276.4 L332.5,275.3 L333.2,274.3 L334.0,273.2 L334.7,272.2 L335.4,271.2 L336.1,270.1 L336.8,269.1 L337.5,268.0 L338.2,267.0 L338.9,265.9 L339.6,264.9 L340.3,263.9 L341.1,262.8 L341.8,261.8 L342.5,260.7 L343.2,259.7 L343.9,258.6 L344.6,257.6 L345.3,256.5 L346.0,255.5 L346.7,254.4 L347.4,253.4 L348.1,252.4 L348.8,251.3 L349.5,250.3 L350.2,249.2 L350.9,248.2 L351.7,247.1 L352.4,246.1 L353.1,245.0 L353.8,244.0 L354.5,243.0 L355.2,241.9 L355.9,240.9 L356.6,239.8 L357.3,238.8 L358.0,237.7 L358.7,236.7 L359.5,235.7 L360.2,234.6 L360.9,233.6 L361.6,232.5 L362.3,231.5 L363.0,230.4 L363.7,229.4 L364.4,228.4 L365.2,227.3 L365.9,226.3 L366.6,225.2 L367.3,224.2 L368.0,223.2 L368.7,222.1 L369.5,221.1 L370.2,220.1 L370.9,219.0 L371.6,218.0 L372.4,217.0 L373.1,215.9 L373.8,214.9 L374.5,213.9 L375.3,212.8 L376.0,211.8 L376.7,210.8 L377.4,209.7 L378.2,208.7 L378.9,207.7 L379.6,206.6 L380.3,205.6 L381.1,204.6 L381.8,203.5 L382.5,202.5 L383.2,201.5 L384.0,200.4 L384.7,199.4 L385.4,198.4 L386.1,197.4 L386.9,196.3 L387.6,195.3 L388.3,194.3 L389.0,193.2 L389.8,192.2 L390.5,191.1 L391.2,190.1 L391.9,189.1 L392.6,188.0 L393.4,187.0 L394.1,186.0 L394.8,184.9 L395.5,183.9 L396.2,182.9 L397.0,181.8 L397.7,180.8 L398.4,179.7 L399.1,178.7 L399.8,177.6 L400.5,176.6" fill="none" stroke="#ff1a1a" stroke-width="4.5" stroke-linejoin="round"/>
<path d="M239.6,371.7 L240.6,370.9 L241.5,370.1 L242.4,369.3 L243.4,368.4 L244.3,367.7 L245.4,366.9 L246.4,366.2 L247.4,365.6 L248.5,364.9 L249.5,364.2 L250.6,363.6 L251.7,363.0 L252.8,362.4 L253.9,361.7 L255.0,361.2 L256.1,360.6 L257.2,360.0 L258.3,359.5 L259.4,358.9 L260.5,358.4 L261.7,357.9 L262.8,357.4 L263.9,356.8 L265.1,356.3 L266.2,355.8 L267.3,355.3 L268.5,354.7 L269.6,354.2 L270.7,353.6 L271.8,353.0 L272.8,352.4 L273.9,351.8 L275.0,351.1 L276.0,350.4 L277.0,349.7 L278.0,348.9 L279.0,348.1 L279.9,347.3 L280.9,346.5 L281.8,345.7 L282.6,344.8 L283.5,343.9 L284.3,342.9 L285.1,342.0 L285.9,341.0 L286.7,340.0 L287.5,339.1 L288.3,338.1 L289.0,337.1 L289.7,336.1 L290.5,335.1 L291.2,334.1 L291.9,333.0 L292.6,332.0 L293.3,331.0 L294.0,329.9 L294.7,328.9 L295.3,327.8 L296.0,326.8 L296.7,325.7 L297.3,324.7 L298.0,323.6 L298.6,322.5 L299.3,321.5 L299.9,320.4 L300.5,319.3 L301.1,318.2 L301.7,317.1 L302.3,316.0 L302.8,314.9 L303.4,313.8 L303.9,312.7 L304.4,311.6 L305.0,310.4 L305.5,309.3 L306.0,308.1 L306.5,307.0 L307.0,305.8 L307.5,304.7 L308.0,303.6 L308.5,302.4 L309.0,301.3 L309.5,300.2 L310.1,299.0 L310.6,297.9 L311.2,296.8 L311.7,295.7 L312.2,294.6 L312.8,293.5 L313.4,292.3 L313.9,291.2 L314.5,290.1 L315.0,289.0 L315.6,287.9 L316.2,286.8 L316.7,285.7 L317.3,284.6 L317.9,283.4 L318.4,282.3 L319.0,281.2 L319.6,280.1 L320.2,279.0 L320.8,277.9 L321.3,276.8 L321.9,275.7 L322.5,274.6 L323.1,273.5 L323.7,272.4 L324.3,271.3 L324.9,270.3 L325.5,269.2 L326.1,268.1 L326.7,267.0 L327.3,265.9 L327.9,264.8 L328.5,263.7 L329.2,262.7 L329.8,261.6 L330.4,260.5 L331.0,259.4 L331.7,258.4 L332.3,257.3 L332.9,256.2 L333.6,255.2 L334.2,254.1 L334.8,253.0 L335.5,252.0 L336.1,250.9 L336.8,249.8 L337.4,248.8 L338.1,247.7 L338.8,246.6 L339.4,245.6 L340.1,244.5 L340.7,243.5 L341.4,242.4 L342.1,241.4 L342.7,240.3 L343.4,239.3 L344.1,238.2 L344.7,237.1 L345.4,236.1 L346.1,235.0 L346.7,234.0 L347.4,232.9 L348.1,231.9 L348.7,230.8 L349.4,229.8 L350.1,228.7 L350.7,227.7 L351.4,226.6 L352.0,225.6 L352.7,224.5 L353.4,223.5 L354.1,222.4 L354.7,221.4 L355.4,220.3 L356.1,219.3 L356.7,218.2 L357.4,217.2 L358.1,216.1 L358.8,215.1 L359.5,214.1 L360.1,213.0 L360.8,212.0 L361.5,210.9 L362.2,209.9 L362.9,208.8 L363.5,207.8 L364.2,206.8 L364.9,205.7 L365.6,204.7 L366.3,203.6 L367.0,202.6 L367.6,201.5 L368.3,200.5 L369.0,199.5 L369.7,198.4 L370.4,197.4 L371.1,196.4 L371.8,195.3 L372.4,194.3 L373.1,193.2 L373.8,192.2 L374.5,191.2 L375.2,190.1 L375.9,189.1 L376.6,188.0 L377.2,187.0 L377.9,186.0 L378.6,184.9 L379.3,183.9 L380.0,182.8 L380.7,181.8 L381.4,180.8 L382.0,179.7 L382.7,178.7 L383.4,177.6 L384.1,176.6" fill="none" stroke="#1f1fff" stroke-width="5.0" stroke-linejoin="round"/>
<line x1="238.2" y1="371.5" x2="420" y2="277.7" stroke="#ff00ff" stroke-width="2.0"/>
<line x1="238.2" y1="356.5" x2="420" y2="262.3" stroke="#008000" stroke-width="1.9"/>
<line x1="238.2" y1="286.9" x2="420" y2="192.4" stroke="#800080" stroke-width="1.9"/>
<rect x="237.6" y="350.8" width="3" height="3" fill="#fff" stroke="#000" stroke-width="0.7"/>
<circle cx="239.2" cy="362.3" r="1.6" fill="#fff" stroke="#ff1a1a" stroke-width="0.7"/>
<circle cx="239.2" cy="366.3" r="1.4" fill="#fff" stroke="#1f1fff" stroke-width="0.7"/>
</g>
<text x="87.9" y="470.6" text-anchor="end" font-size="13.9">0.0</text>
<text x="87.9" y="400.2" text-anchor="end" font-size="13.9">0.5</text>
<text x="87.9" y="329.8" text-anchor="end" font-size="13.9">1.0</text>
<text x="87.9" y="259.4" text-anchor="end" font-size="13.9">1.5</text>
<text x="87.9" y="189.0" text-anchor="end" font-size="13.9">2.0</text>
<text x="158.2" y="488.9" text-anchor="middle" font-size="14">10<tspan dy="-6.9" font-size="8.4">-1</tspan></text>
<text x="256.4" y="488.9" text-anchor="middle" font-size="14">10<tspan dy="-6.9" font-size="8.4">1</tspan></text>
<text x="354.8" y="488.9" text-anchor="middle" font-size="14">10<tspan dy="-6.9" font-size="8.4">3</tspan></text>
<text x="256.8" y="517.7" font-size="16.5">V/T<tspan dy="6.5" font-size="10">K</tspan></text>
<text x="282.6" y="508.3" font-size="10.5">*</text>
<text transform="translate(58.3,376.1) rotate(-90)" font-size="16.4">dI/dV(e<tspan dy="-9.9" font-size="10">2</tspan><tspan dy="9.9" font-size="16.4">/h)</tspan></text>
<rect x="104.1" y="338.5" width="76.5" height="54.7" fill="#fff" stroke="#3a3a3a" stroke-width="1"/>
<rect x="122.2" y="347.3" width="3.3" height="3.3" fill="none" stroke="#000" stroke-width="0.7"/>
<circle cx="123.8" cy="366.9" r="1.7" fill="none" stroke="#ff1a1a" stroke-width="0.7"/>
<path d="M123.8,382 l2,3.5 h-4 z" fill="none" stroke="#1f1fff" stroke-width="0.7"/>
<text x="143.7" y="354.1" font-size="15" textLength="35.1" lengthAdjust="spacingAndGlyphs">U=15</text>
<text x="143.7" y="372.0" font-size="15" textLength="35.1" lengthAdjust="spacingAndGlyphs">U=17</text>
<text x="143.7" y="389.3" font-size="15" textLength="35.1" lengthAdjust="spacingAndGlyphs">U=18</text>
<path d="M238.2,181.3 V381.5 H420" fill="none" stroke="#505050" stroke-width="1.2"/>
<path d="M238.2,381.5 h3.4 M238.2,356.5 h2 M238.2,331.5 h3.4 M238.2,306.5 h2 M238.2,281.5 h3.4 M238.2,256.5 h2 M238.2,231.5 h3.4 M238.2,206.5 h2 M238.2,181.5 h3.4 M238.2,381.5 v-3.4 M265.1,381.5 v-2 M291.9,381.5 v-3.4 M318.8,381.5 v-2 M345.6,381.5 v-3.4 M372.5,381.5 v-2 M399.4,381.5 v-3.4 M426.2,381.5 v-2" fill="none" stroke="#222" stroke-width="0.9"/>
<text x="234.6" y="383.5" text-anchor="end" font-size="8.6" class="sm">0.00</text>
<text x="234.6" y="333.5" text-anchor="end" font-size="8.6" class="sm">0.05</text>
<text x="234.6" y="283.5" text-anchor="end" font-size="8.6" class="sm">0.10</text>
<text x="234.6" y="233.5" text-anchor="end" font-size="8.6" class="sm">0.15</text>
<text x="234.6" y="183.5" text-anchor="end" font-size="8.6" class="sm">0.20</text>
<text x="238.2" y="392.7" text-anchor="middle" font-size="8.7" class="sm">0.0</text>
<text x="291.9" y="392.7" text-anchor="middle" font-size="8.7" class="sm">0.5</text>
<text x="345.6" y="392.7" text-anchor="middle" font-size="8.7" class="sm">1.0</text>
<text x="399.4" y="392.7" text-anchor="middle" font-size="8.7" class="sm">1.5</text>
<text x="304.8" y="406.7" font-size="13.5">1/(Log(V/T<tspan dy="4.7" font-size="8">K</tspan><tspan dy="-4.7" font-size="13.5">))</tspan><tspan dy="-8.3" font-size="8">2</tspan></text>
<text x="367.6" y="399.6" font-size="8.5">*</text>
<text transform="translate(212.3,259.0) rotate(-90)" font-size="13.45">dI/dV(e<tspan dy="-8.7" font-size="8">2</tspan><tspan dy="8.7" font-size="13.45">/h)</tspan></text>
<rect x="357.5" y="310.2" width="70" height="65.0" fill="#fff" stroke="#333" stroke-width="0.8"/>
<rect x="370.3" y="316.3" width="5.4" height="5.4" fill="none" stroke="#000" stroke-width="0.75"/>
<circle cx="373" cy="328.5" r="2.9" fill="none" stroke="#ff1a1a" stroke-width="0.75"/>
<path d="M373,334.2 l3.7,6.3 h-7.4 z" fill="none" stroke="#1f1fff" stroke-width="0.75"/>
<line x1="363.9" y1="349.3" x2="381.8" y2="349.3" stroke="#ff00ff" stroke-width="1.5"/>
<path d="M363.9,360.0 h5.6 m5,0 h6.3" stroke="#008000" stroke-width="1.5"/>
<path d="M363.9,371.2 h5.6 m5,0 h6.3" stroke="#800080" stroke-width="1.5"/>
<text x="384.0" y="321.6" font-size="8.4" class="sm" textLength="18.0" lengthAdjust="spacingAndGlyphs">U=15</text>
<text x="384.0" y="331.6" font-size="8.4" class="sm" textLength="18.0" lengthAdjust="spacingAndGlyphs">U=17</text>
<text x="384.0" y="340.7" font-size="8.4" class="sm" textLength="18.0" lengthAdjust="spacingAndGlyphs">U=18</text>
<text x="386" y="351.5" font-size="8.4" class="sm" textLength="57.6" lengthAdjust="spacingAndGlyphs">Y=0.01+0.055*X</text>
<text x="386" y="362.6" font-size="8.4" class="sm" textLength="62.0" lengthAdjust="spacingAndGlyphs">Y=0.025+0.055*X</text>
<text x="386" y="373.7" font-size="8.4" class="sm" textLength="62.0" lengthAdjust="spacingAndGlyphs">Y=0.095+0.055*X</text>
<path d="M337.4,422.4 L361,449.5" stroke="#000" stroke-width="0.9" fill="none"/>
<path d="M362.9,451.6 L356.4,447.3 L359.5,444.6 z" fill="#000"/>
<path d="M290,456.5 L318.6,448.5 M319.4,449.9 L399.8,456.2 L410,461.2" stroke="#000" stroke-width="0.8" fill="none"/>
<path d="M287.6,456.6 L292.4,453.4 L293.4,457.0 z" fill="#000"/>
<path d="M413.6,463.0 L405.6,461.2 L407.3,457.8 z" fill="#000"/>
</svg>
</body></html>
